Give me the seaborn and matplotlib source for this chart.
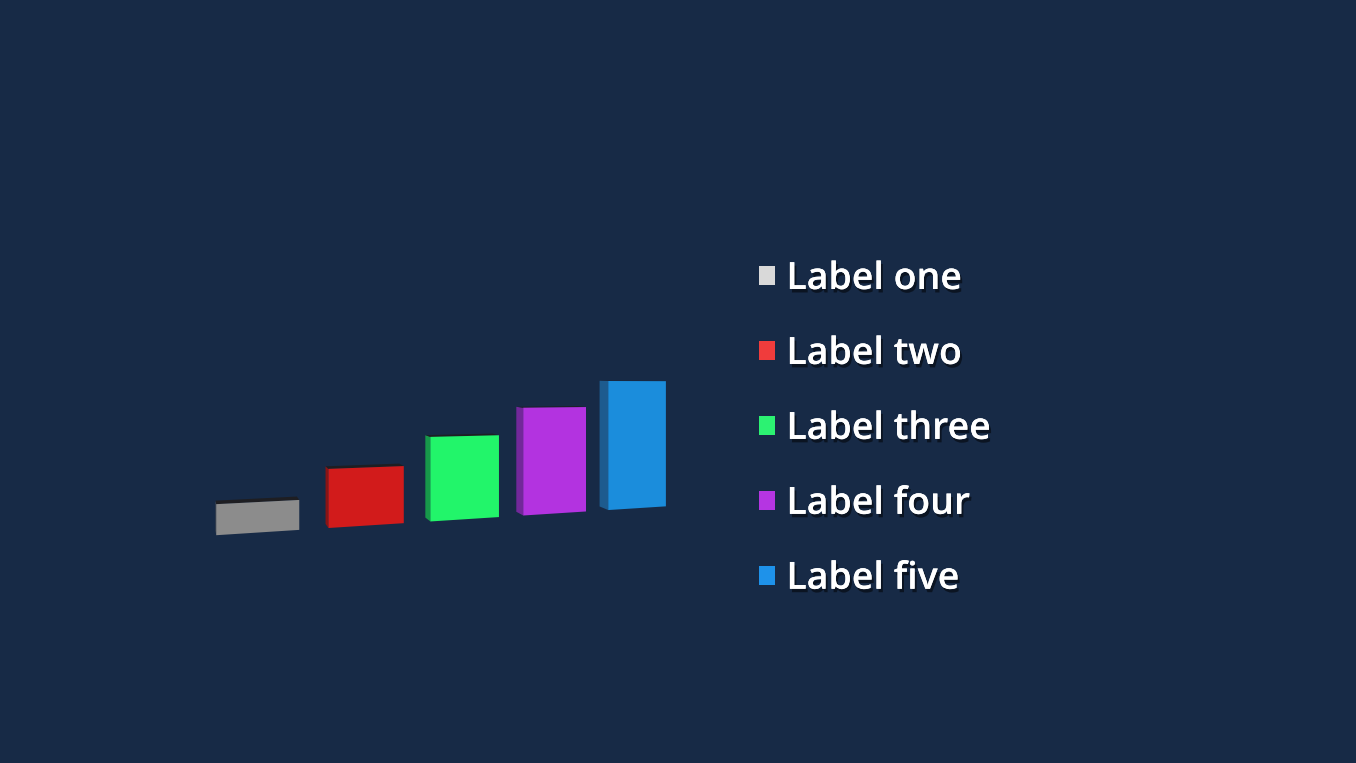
#import libraries
import numpy as np
import seaborn as sns
import matplotlib.pyplot as plt
import matplotlib.transforms as mtransforms
import matplotlib.patheffects as pe
from matplotlib.patches import Polygon, Patch

#chart data
labels = ["Label one", "Label two", "Label three", "Label four", "Label five"]
values = [1, 2, 3, 4, 5]
bar_colors = ["#8c8c8c", "#d21b1b", "#22f56a", "#b333e0", "#1b8ddc"]
side_colors = ["#555555", "#8a1414", "#17984a", "#72289a", "#1d5b8e"]
top_color = "#1e1e22"
legend_colors = ["#d9d9d9", "#f03c3c", "#2cf272", "#b535e2", "#1e92ea"]

W, H = 1356, 763
BG = "#172a46"

#simple perspective camera, output in pixels
X0, Y0 = 258.5, 532.5
FX, GY, KY = 113.7, 7.3, 30.5
A = 0.05
EYE = 5.3


def project(x, y, z=0.0):
    x = np.asarray(x, float)
    y = np.asarray(y, float)
    t = 1 + A * x
    sx = X0 + (FX * x - (1.5 + 2.4 * x) * z) / t
    sy = Y0 - (GY * x + KY * y + 0.8 * (EYE - y) * z) / t
    return sx, H - sy


class Persp(mtransforms.Transform):
    input_dims = output_dims = 2
    is_separable = False
    has_inverse = False

    def transform_non_affine(self, values):
        v = np.asarray(values, float)
        sx, sy = project(v[:, 0], v[:, 1])
        return np.column_stack([sx, sy])


sns.set_style("white")
plt.rcParams['font.family'] = ['Open Sans', 'DejaVu Sans']

fig = plt.figure(figsize=(W / 100, H / 100), dpi=100, facecolor=BG)
ax = fig.add_axes([0, 0, 1, 1])
ax.set_facecolor(BG)

sns.barplot(x=labels, y=values, hue=labels, palette=bar_colors, width=0.73,
            saturation=1, legend=False, ax=ax)
ax.axis('off')

#turn flat bars into front faces and add side/top faces
bars = sorted(ax.patches, key=lambda p: p.get_x())
for bar, side in zip(bars, side_colors):
    bar.set_transform(Persp())
    bar.set_clip_on(False)
    bar.set_edgecolor('none')
    bar.set_zorder(3)
    xl = bar.get_x()
    xr = xl + bar.get_width()
    h = bar.get_height()
    sx, sy = project([xl, xl, xl, xl], [0, h, h, 0], [0, 0, 1, 1])
    ax.add_patch(Polygon(np.column_stack([sx, sy]), closed=True, facecolor=side,
                         edgecolor='none', transform=mtransforms.IdentityTransform(),
                         clip_on=False, zorder=2))
    tx, ty = project([xl, xr, xr, xl], [h, h, h, h], [0, 0, 1, 1])
    ax.add_patch(Polygon(np.column_stack([tx, ty]), closed=True, facecolor=top_color,
                         edgecolor='none', transform=mtransforms.IdentityTransform(),
                         clip_on=False, zorder=2))

#legend
handles = [Patch(facecolor=c, edgecolor='none') for c in legend_colors]
leg = fig.legend(handles, labels, loc='upper left', bbox_to_anchor=(759 / W, 1 - 260 / H),
                 frameon=False, fontsize=27, handlelength=0.43, handleheight=0.43,
                 handletextpad=0.30, labelspacing=0.985, borderpad=0, borderaxespad=0)
for txt in leg.get_texts():
    txt.set_color('white')
    txt.set_fontweight('semibold')
    txt.set_path_effects([pe.withSimplePatchShadow(offset=(1.5, -2.5), shadow_rgbFace='black', alpha=0.5),
                          pe.Normal()])

fig.savefig('out.png', dpi=100, facecolor=BG)
